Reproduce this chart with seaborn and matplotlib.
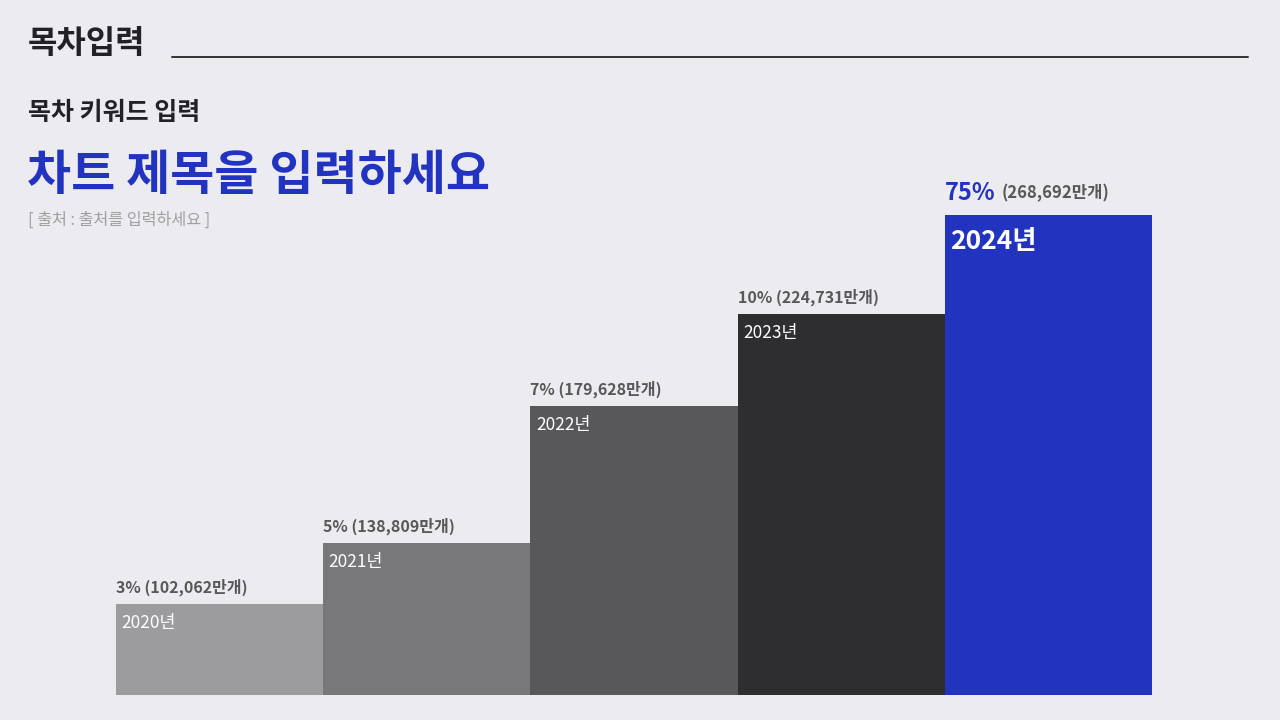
import matplotlib
matplotlib.use("Agg")
import matplotlib.pyplot as plt
from matplotlib.lines import Line2D
import seaborn as sns
import pandas as pd

# values
years = ["2020년", "2021년", "2022년", "2023년", "2024년"]
shares = ["3%", "5%", "7%", "10%", "75%"]
counts = ["102,062", "138,809", "179,628", "224,731", "268,692"]
bar_heights = [91, 152, 289, 381, 480]
bar_colors = ["#9c9c9e", "#78787a", "#58585b", "#2e2e31", "#2233c0"]

bg = "#ebebf0"
blue = "#2233c0"
label_gray = "#58585b"

sns.set_theme(style="white", rc={"axes.facecolor": bg, "figure.facecolor": bg})
plt.rcParams["font.family"] = ["Noto Sans CJK KR", "DejaVu Sans"]

W, H = 1280, 720
fig = plt.figure(figsize=(12.8, 7.2), dpi=100)


def px(x, y):
    return x / W, 1 - y / H


# header
fig.text(*px(28, 44), "목차입력", fontsize=23, fontweight="bold", color="#222226", va="center")
fig.add_artist(Line2D([172 / W, 1248 / W], [1 - 57 / H] * 2, color="#333336", lw=1.4))
fig.text(*px(28, 113), "목차 키워드 입력", fontsize=18, fontweight="bold", color="#222226", va="center")
fig.text(*px(27, 176), "차트 제목을 입력하세요", fontsize=34.5, fontweight="bold", color=blue, va="center")
fig.text(*px(28, 220), "[ 출처 : 출처를 입력하세요 ]", fontsize=11.7, color="#a0a0a3", va="center")

# bars
ax = fig.add_axes([116 / W, 25 / H, 1036 / W, 480 / H])
df = pd.DataFrame({"year": years, "height": bar_heights})
sns.barplot(data=df, x="year", y="height", hue="year", palette=bar_colors,
            width=1.0, saturation=1, legend=False, linewidth=0, ax=ax)
ax.set_xlim(-0.5, len(years) - 0.5)
ax.set_ylim(0, max(bar_heights))
ax.axis("off")

fig.canvas.draw()
renderer = fig.canvas.get_renderer()

for i, (yr, sh, cnt, h) in enumerate(zip(years, shares, counts, bar_heights)):
    left = i - 0.5
    last = i == len(years) - 1
    if last:
        t = ax.annotate(sh, (left, h), xytext=(0, 7), textcoords="offset points",
                        fontsize=17, fontweight="bold", color=blue, ha="left", va="bottom")
        fig.canvas.draw()
        bb = t.get_window_extent(renderer)
        ax.annotate(f"({cnt}만개)", (left, h), xytext=((bb.x1 - bb.x0) * 0.72 + 4.5, 9),
                    textcoords="offset points", fontsize=12, fontweight="bold",
                    color=label_gray, ha="left", va="bottom")
        ax.annotate(yr, (left, h), xytext=(4, -19), textcoords="offset points",
                    fontsize=19, fontweight="bold", color="white", ha="left", va="center")
    else:
        ax.annotate(f"{sh} ({cnt}만개)", (left, h), xytext=(0, 6), textcoords="offset points",
                    fontsize=11.5, fontweight="bold", color=label_gray, ha="left", va="bottom")
        ax.annotate(yr, (left, h), xytext=(4, -13.5), textcoords="offset points",
                    fontsize=12.5, color="white", ha="left", va="center")

fig.savefig("out.png", dpi=100, facecolor=bg)
